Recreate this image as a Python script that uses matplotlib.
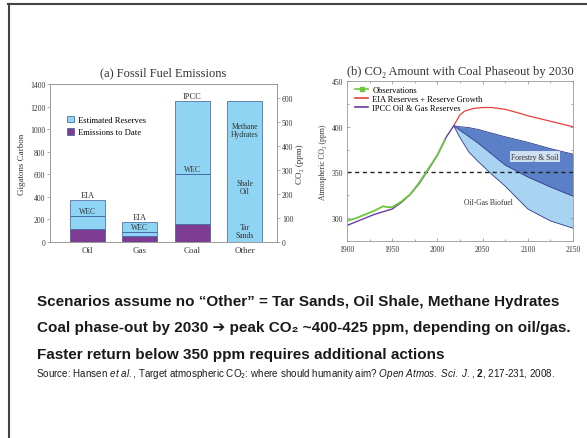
#Slide: fossil fuel emissions and CO2 with coal phaseout (Hansen et al. 2008)

import numpy as np
import matplotlib
matplotlib.use("Agg")
import matplotlib.pyplot as plt
from matplotlib.lines import Line2D
from matplotlib.patches import Patch

plt.rcParams['mathtext.fontset'] = 'custom'
plt.rcParams['mathtext.rm'] = 'Liberation Sans'
plt.rcParams['mathtext.it'] = 'Liberation Sans:italic'
plt.rcParams['mathtext.bf'] = 'Liberation Sans:bold'

#Panel (a) data
fuels = ['Oil', 'Gas', 'Coal', 'Other']
emitted = [115, 50, 160, 0]           #Emissions to Date (GtC)
reserves_top = [370, 180, 1250, 1250]  #top of Estimated Reserves (GtC)
wec_level = [230, 85, 600, None]
top_labels = ['EIA', 'EIA', 'IPCC', '']

#Panel (b) data
years_obs = [1900, 1910, 1920, 1930, 1940, 1945, 1950, 1960, 1970, 1980, 1990, 2000, 2008]
co2_obs = [297, 300, 304, 308, 313, 312, 312, 318, 326, 339, 354, 369, 385]

years_hist = [1900, 1910, 1920, 1930, 1940, 1950, 1960, 1970, 1980, 1990, 2000, 2010, 2018]
co2_hist = [292, 296, 300, 304, 307, 310, 317, 326, 338, 353, 369, 389, 401]

years_eia = [2018, 2025, 2030, 2040, 2050, 2060, 2075, 2090, 2100, 2125, 2150]
co2_eia = [401, 413, 417, 420, 421, 421, 419, 415, 412, 406, 400]

years_band = [2018, 2025, 2035, 2045, 2060, 2075, 2100, 2125, 2150]
band_upper = [401, 400, 399, 397, 393, 389, 383, 376, 370]
band_middle = [401, 396, 389, 382, 370, 358, 345, 334, 324]
band_lower = [401, 388, 372, 362, 348, 335, 310, 297, 289]

serif = ['Liberation Serif', 'DejaVu Serif']
sans = ['Liberation Sans', 'DejaVu Sans']
txt = '#333333'

fig = plt.figure(figsize=(5.87, 4.39), dpi=100)

#Slide frame
fig.add_artist(Line2D([8/587, 1], [1-5/439, 1-5/439], color='#444444', lw=1.5))
fig.add_artist(Line2D([9/587, 9/587], [0, 1-5/439], color='#444444', lw=1.5))

#---- Panel (a) ----
ax1 = fig.add_axes([50/587, 1-243/439, 227/587, 158/439])
x = np.arange(len(fuels))
light = '#8fd4f2'
purple = '#7d3c92'
edge = '#3a5a9a'
res_height = [t - e for t, e in zip(reserves_top, emitted)]
ax1.bar(x, emitted, width=0.67, color=purple, edgecolor=edge, linewidth=0.5)
ax1.bar(x, res_height, width=0.67, bottom=emitted, color=light, edgecolor=edge, linewidth=0.5)
for i, w in enumerate(wec_level):
    if w is not None:
        ax1.hlines(w, i-0.335, i+0.335, color=edge, lw=0.6)
        ax1.text(i, w+10, 'WEC', ha='center', va='bottom', fontsize=5.5, family=serif, color=txt)
    if top_labels[i]:
        ax1.text(i, reserves_top[i]+10, top_labels[i], ha='center', va='bottom', fontsize=6, family=serif, color=txt)
ax1.text(3, 990, 'Methane\nHydrates', ha='center', va='center', fontsize=5.5, family=serif, color=txt, linespacing=1.0)
ax1.text(3, 490, 'Shale\nOil', ha='center', va='center', fontsize=5.5, family=serif, color=txt, linespacing=1.0)
ax1.text(3, 95, 'Tar\nSands', ha='center', va='center', fontsize=5.5, family=serif, color=txt, linespacing=1.0)

ax1.set_xlim(-0.72, 3.62)
ax1.set_ylim(0, 1400)
ax1.set_xticks(x)
ax1.set_xticklabels(fuels, family=serif, fontsize=6.5, color=txt)
ax1.set_yticks(np.arange(0, 1401, 200))
ax1.set_yticklabels([str(v) for v in range(0, 1401, 200)], family=serif, fontsize=5.5, color=txt)
ax1.tick_params(axis='both', length=2, width=0.5, pad=1.5, colors='#888888', labelcolor=txt)
ax1.tick_params(axis='x', length=0, pad=3)
ax1.set_ylabel('Gigatons Carbon', family=serif, fontsize=6.5, color=txt, labelpad=3)
ax1.set_title('(a) Fossil Fuel Emissions', family=serif, fontsize=9, color=txt, pad=6)
for s in ax1.spines.values():
    s.set_color('#999999')
    s.set_linewidth(0.6)

ax1r = ax1.twinx()
ax1r.set_ylim(0, 1400/2.12)
ax1r.set_yticks(np.arange(0, 601, 100))
ax1r.set_yticklabels([str(v) for v in range(0, 601, 100)], family=serif, fontsize=5.5, color=txt)
ax1r.tick_params(axis='y', length=2, width=0.5, pad=1.5, colors='#888888', labelcolor=txt)
ax1r.set_ylabel('CO₂ (ppm)', family=serif, fontsize=6.5, color=txt, labelpad=2)
for s in ax1r.spines.values():
    s.set_color('#999999')
    s.set_linewidth(0.6)

ax1.legend(handles=[Patch(facecolor=light, edgecolor=edge, lw=0.5, label='Estimated Reserves'),
                    Patch(facecolor=purple, edgecolor=edge, lw=0.5, label='Emissions to Date')],
           loc='upper left', bbox_to_anchor=(0.06, 0.82), frameon=False,
           prop={'family': serif, 'size': 6.2}, handlelength=0.8, handleheight=0.8,
           handletextpad=0.5, labelspacing=0.45, borderaxespad=0)

#---- Panel (b) ----
ax2 = fig.add_axes([347/587, 1-242/439, 226/587, 160/439])
dark_band = '#5b80c8'
light_band = '#a8d4f2'
band_edge = '#2c3a8c'
ax2.fill_between(years_band, band_middle, band_upper, color=dark_band, lw=0)
ax2.fill_between(years_band, band_lower, band_middle, color=light_band, lw=0)
ax2.plot(years_band, band_upper, color=band_edge, lw=0.6)
ax2.plot(years_band, band_middle, color=band_edge, lw=0.6)
ax2.plot(years_band, band_lower, color=band_edge, lw=0.6)
ax2.axhline(350, color='#222222', lw=1.0, ls=(0, (3, 2.5)))
ax2.plot(years_eia, co2_eia, color='#e8403a', lw=0.9)
ax2.plot(years_hist, co2_hist, color='#6a3da0', lw=1.0)
ax2.plot(years_obs, co2_obs, color='#6cc83a', lw=1.3)

ax2.text(2108, 367, 'Forestry & Soil', ha='center', va='center', fontsize=5.5, family=serif, color=txt,
         bbox=dict(boxstyle='square,pad=0.2', fc='#cfe0f2', ec='none'))
ax2.text(2056, 318, 'Oil-Gas Biofuel', ha='center', va='center', fontsize=5.5, family=serif, color=txt)

ax2.set_xlim(1900, 2150)
ax2.set_ylim(275, 450)
ax2.set_xticks(np.arange(1900, 2151, 50))
ax2.set_xticks(np.arange(1900, 2151, 25), minor=True)
ax2.set_yticks([300, 350, 400, 450])
ax2.set_yticks(np.arange(275, 451, 25), minor=True)
ax2.set_xticklabels([str(v) for v in range(1900, 2151, 50)], family=serif, fontsize=5.5, color=txt)
ax2.set_yticklabels(['300', '350', '400', '450'], family=serif, fontsize=5.5, color=txt)
ax2.tick_params(which='both', direction='in', top=True, right=True, width=0.5, colors='#888888', labelcolor=txt, pad=3)
ax2.tick_params(which='major', length=2.5)
ax2.tick_params(which='minor', length=1.5)
ax2.set_ylabel('Atmospheric CO₂ (ppm)', family=serif, fontsize=5.5, color=txt, labelpad=3)
ax2.set_title('(b) CO₂ Amount with Coal Phaseout by 2030', family=serif, fontsize=9, color=txt, pad=5)
for s in ax2.spines.values():
    s.set_color('#999999')
    s.set_linewidth(0.6)

ax2.legend(handles=[Line2D([], [], color='#6cc83a', lw=1.2, marker='s', markersize=3, label='Observations'),
                    Line2D([], [], color='#e8403a', lw=1.2, label='EIA Reserves + Reserve Growth'),
                    Line2D([], [], color='#6a3da0', lw=1.2, label='IPCC Oil & Gas Reserves')],
           loc='upper left', bbox_to_anchor=(0.02, 0.99), frameon=False,
           prop={'family': serif, 'size': 6}, handlelength=1.6, handletextpad=0.5,
           labelspacing=0.1, borderaxespad=0)

#---- Slide text ----
bold_lines = ['Scenarios assume no \u201cOther\u201d = Tar Sands, Oil Shale, Methane Hydrates',
              'Coal phase-out by 2030 \u2794 peak CO\u2082 ~400-425 ppm, depending on oil/gas.',
              'Faster return below 350 ppm requires additional actions']
line_y = [302, 328, 355]
for s, yy in zip(bold_lines, line_y):
    fig.text(37/587, 1-yy/439, s, ha='left', va='center', fontsize=11, fontweight='bold',
             family=sans, color='#1a1a1a')

source = (r'Source: Hansen $\mathit{et\ al.}$, Target atmospheric CO$_2$: where should humanity aim? '
          r'$\mathit{Open\ Atmos.\ Sci.\ J.}$, $\mathbf{2}$, 217-231, 2008.')
fig.text(36/587, 1-374/439, source, ha='left', va='center', fontsize=7.1, family=sans, color='#1a1a1a')

fig.savefig('out.png', dpi=100, facecolor='white')
